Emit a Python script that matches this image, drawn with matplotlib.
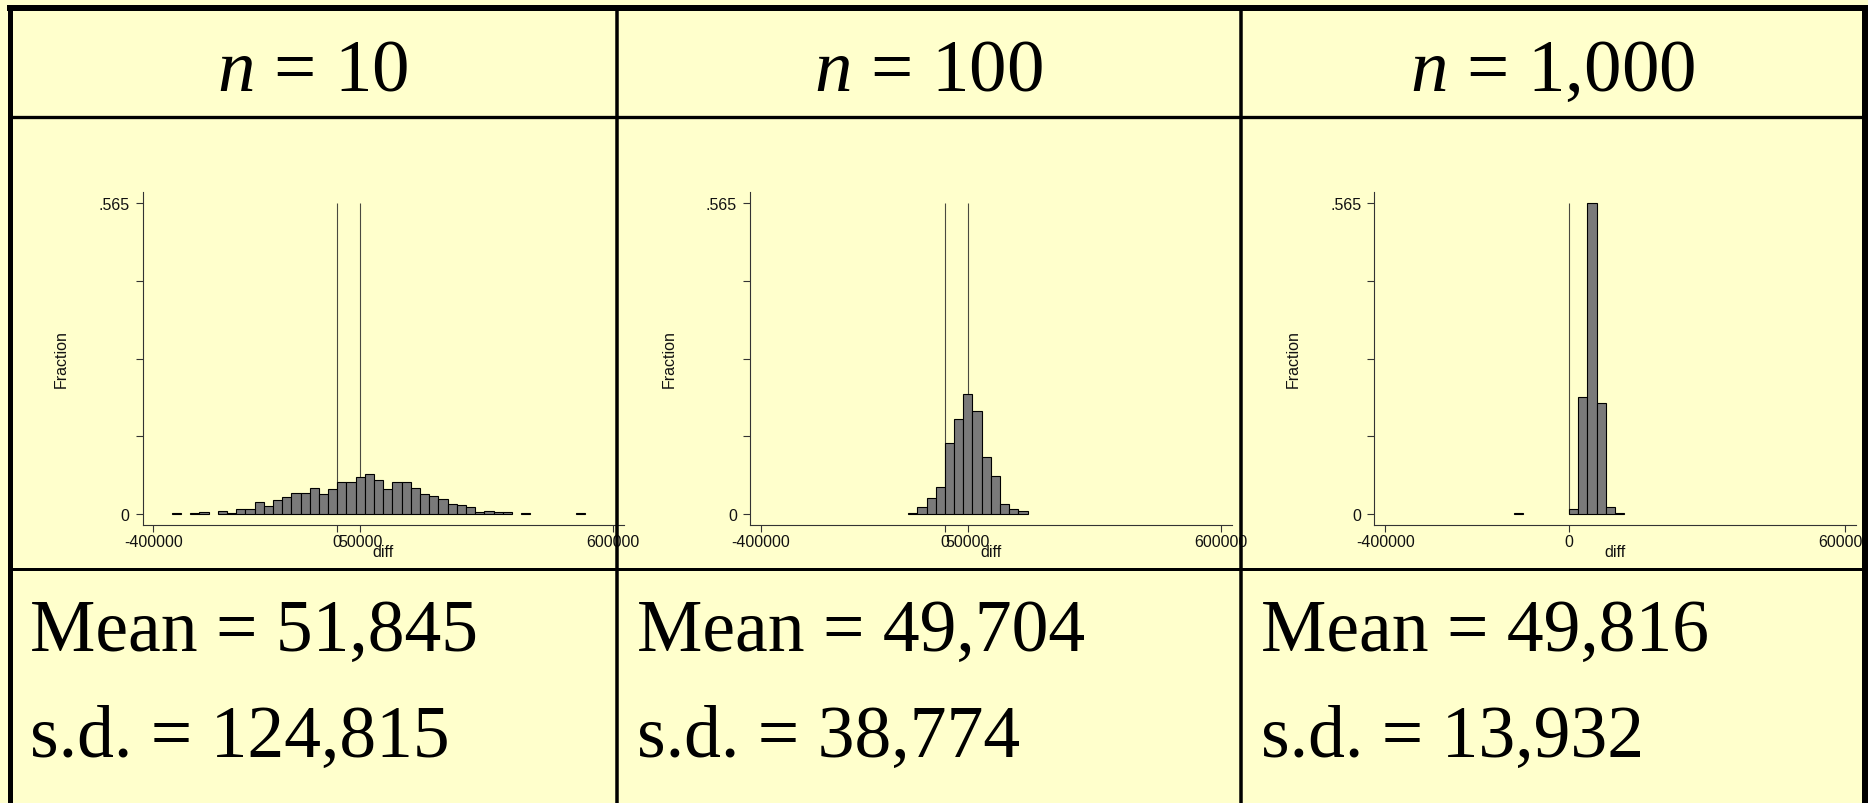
import matplotlib.pyplot as plt
from matplotlib.lines import Line2D

plt.rcParams['mathtext.fontset'] = 'custom'
plt.rcParams['mathtext.rm'] = 'Liberation Serif'
plt.rcParams['mathtext.it'] = 'Liberation Serif:italic'

W, H = 1868, 804

headers = ['$n$ = 10', '$n$ = 100', '$n$ = 1,000']
means = ['51,845', '49,704', '49,816']
sds = ['124,815', '38,774', '13,932']

bin_width = 20000

# simulated sampling distributions of diff, fraction per bin
n10_left = [-360000, -320000, -300000, -260000, -240000, -220000, -200000, -180000,
            -160000, -140000, -120000, -100000, -80000, -60000, -40000, -20000,
            0, 20000, 40000, 60000, 80000, 100000, 120000, 140000, 160000, 180000,
            200000, 220000, 240000, 260000, 280000, 300000, 320000, 340000, 360000,
            400000, 520000]
n10_frac = [0.001, 0.001, 0.003, 0.006, 0.0025, 0.010, 0.0085, 0.021, 0.015, 0.025,
            0.0315, 0.0375, 0.039, 0.0466, 0.0357, 0.046, 0.0575, 0.0575, 0.0666,
            0.072, 0.061, 0.0454, 0.0575, 0.059, 0.0466, 0.0357, 0.032, 0.0266,
            0.0176, 0.0163, 0.012, 0.0036, 0.0055, 0.003, 0.003, 0.001, 0.001]

n100_left = [-80000, -60000, -40000, -20000, 0, 20000, 40000, 60000, 80000,
             100000, 120000, 140000, 160000]
n100_frac = [0.0012, 0.0133, 0.029, 0.0485, 0.1284, 0.1726, 0.218, 0.1865, 0.103,
             0.069, 0.018, 0.009, 0.0048]

n1000_left = [-120000, 0, 20000, 40000, 60000, 80000, 100000]
n1000_frac = [0.001, 0.009, 0.212, 0.565, 0.201, 0.012, 0.0012]

lefts = [n10_left, n100_left, n1000_left]
fracs = [n10_frac, n100_frac, n1000_frac]
ref_lines = [[0, 50000], [0, 50000], [0]]
xticks = [[-400000, 0, 50000, 600000], [-400000, 0, 50000, 600000], [-400000, 0, 600000]]
ymax = 0.565

bg = '#FFFFCC'
axis_col = '#333333'
small = 11.5

fig = plt.figure(figsize=(W / 100, H / 100), dpi=100, facecolor=bg)


def px_line(xs, ys, lw):
    fig.add_artist(Line2D([x / W for x in xs], [1 - y / H for y in ys],
                          lw=lw * 0.72, color='black', solid_capstyle='butt'))


# table grid
col_edges = [9.5, 616.7, 1240.7, 1864.5]
px_line([7, W], [9, 9], 6)
px_line([9.5, 9.5], [6, H], 5)
px_line([1864.5, 1864.5], [6, H], 7)
px_line([9.5, 1862], [117.5, 117.5], 3.3)
px_line([9.5, 1862], [569.7, 569.7], 3)
for x in col_edges[1:3]:
    px_line([x, x], [9, H], 3.5)

ax_left = [142.6, 750.2, 1374.4]
ax_top, ax_bottom, ax_w = 193.3, 525.7, 481.5

for i in range(3):
    c0, c1 = col_edges[i], col_edges[i + 1]
    fig.text((c0 + c1) / 2 / W, 1 - 90.7 / H, headers[i], ha='center', va='baseline',
             fontsize=54, family='Liberation Serif')
    fig.text((c0 + 20) / W, 1 - 650.7 / H, 'Mean = ' + means[i], ha='left',
             va='baseline', fontsize=53, family='Liberation Serif')
    fig.text((c0 + 20) / W, 1 - 756.7 / H, 's.d. = ' + sds[i], ha='left',
             va='baseline', fontsize=53, family='Liberation Serif')

    ax = fig.add_axes([ax_left[i] / W, 1 - ax_bottom / H, ax_w / W,
                       (ax_bottom - ax_top) / H])
    ax.patch.set_visible(False)
    ax.vlines(ref_lines[i], 0, ymax, color='#4a4a40', lw=0.8, zorder=1)
    ax.bar(lefts[i], fracs[i], width=bin_width, align='edge', color='#7a7a7a',
           edgecolor='black', lw=0.8, zorder=2)
    ax.set_xlim(-423700, 624200)
    ax.set_ylim(-0.0194, 0.5844)
    for s in ['top', 'right']:
        ax.spines[s].set_visible(False)
    for s in ['left', 'bottom']:
        ax.spines[s].set_color(axis_col)
        ax.spines[s].set_linewidth(0.8)
    ax.set_yticks([0, ymax / 4, ymax / 2, 3 * ymax / 4, ymax])
    ax.set_yticklabels(['0', '', '', '', '.565'])
    ax.set_xticks(xticks[i])
    ax.set_xticklabels([str(v) for v in xticks[i]])
    ax.tick_params(axis='both', length=5, width=0.8, color=axis_col,
                   labelsize=small, labelcolor='#111111')
    ax.tick_params(axis='x', pad=1.5)
    ax.tick_params(axis='y', pad=4.5)
    for lab in ax.get_xticklabels() + ax.get_yticklabels():
        lab.set_family('Liberation Sans')
    ax.text(-0.169, 0.5, 'Fraction', transform=ax.transAxes, rotation=90,
            ha='center', va='center', fontsize=small, family='Liberation Sans',
            color='#111111')
    ax.text(0.5, -0.08, 'diff', transform=ax.transAxes, ha='center', va='center',
            fontsize=small, family='Liberation Sans', color='#111111')

fig.savefig('out.png', dpi=100, facecolor=bg)
